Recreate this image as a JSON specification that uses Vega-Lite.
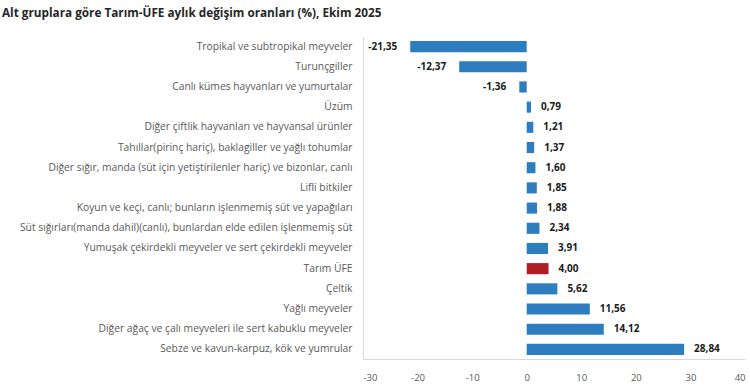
{
  "$schema": "https://vega.github.io/schema/vega-lite/v6.json",
  "autosize": {"type": "none"},
  "width": 382,
  "height": 322,
  "padding": {"left": 363, "top": 37, "right": 5, "bottom": 26},
  "background": "white",
  "title": {
    "text": "Alt gruplara göre Tarım-ÜFE aylık değişim oranları (%), Ekim 2025",
    "anchor": "start",
    "frame": "group",
    "dx": -361,
    "dy": -17,
    "offset": 0,
    "fontSize": 11.75,
    "font": "Open Sans",
    "fontWeight": "bold",
    "color": "#262626"
  },
  "config": {
    "locale": {"number": {"decimal": ",", "thousands": ".", "grouping": [3], "currency": ["", ""], "minus": "-"}},
    "view": {"stroke": null},
    "font": "Open Sans"
  },
  "data": {
    "values": [
      {"grup": "Tropikal ve subtropikal meyveler", "deger": -21.35, "tip": "alt"},
      {"grup": "Turunçgiller", "deger": -12.37, "tip": "alt"},
      {"grup": "Canlı kümes hayvanları ve yumurtalar", "deger": -1.36, "tip": "alt"},
      {"grup": "Üzüm", "deger": 0.79, "tip": "alt"},
      {"grup": "Diğer çiftlik hayvanları ve hayvansal ürünler", "deger": 1.21, "tip": "alt"},
      {"grup": "Tahıllar(pirinç hariç), baklagiller ve yağlı tohumlar", "deger": 1.37, "tip": "alt"},
      {"grup": "Diğer sığır, manda (süt için yetiştirilenler hariç) ve bizonlar, canlı", "deger": 1.60, "tip": "alt"},
      {"grup": "Lifli bitkiler", "deger": 1.85, "tip": "alt"},
      {"grup": "Koyun ve keçi, canlı; bunların işlenmemiş süt ve yapağıları", "deger": 1.88, "tip": "alt"},
      {"grup": "Süt sığırları(manda dahil)(canlı), bunlardan elde edilen işlenmemiş süt", "deger": 2.34, "tip": "alt"},
      {"grup": "Yumuşak çekirdekli meyveler ve sert çekirdekli meyveler", "deger": 3.91, "tip": "alt"},
      {"grup": "Tarım ÜFE", "deger": 4.00, "tip": "genel"},
      {"grup": "Çeltik", "deger": 5.62, "tip": "alt"},
      {"grup": "Yağlı meyveler", "deger": 11.56, "tip": "alt"},
      {"grup": "Diğer ağaç ve çalı meyveleri ile sert kabuklu meyveler", "deger": 14.12, "tip": "alt"},
      {"grup": "Sebze ve kavun-karpuz, kök ve yumrular", "deger": 28.84, "tip": "alt"}
    ]
  },
  "encoding": {
    "y": {
      "field": "grup", "type": "nominal", "sort": null, "title": null,
      "scale": {"paddingInner": 0.45, "paddingOuter": 0.2},
      "axis": {
        "domain": true, "domainColor": "#d9d9d9", "ticks": false,
        "labelPadding": 11, "labelFontSize": 10.3, "labelColor": "#595959",
        "labelLimit": 400, "labelFont": "Open Sans"
      }
    },
    "x": {
      "field": "deger", "type": "quantitative", "title": null,
      "scale": {"domain": [-30, 40], "nice": false, "zero": true},
      "axis": {
        "values": [-30, -20, -10, 0, 10, 20, 30, 40], "format": "d",
        "grid": false, "ticks": false, "domain": true, "domainColor": "#d9d9d9",
        "labelPadding": 13, "labelFontSize": 9.5, "labelColor": "#595959", "labelFont": "Open Sans"
      }
    }
  },
  "layer": [
    {
      "mark": {"type": "bar"},
      "encoding": {
        "color": {
          "field": "tip", "type": "nominal", "legend": null,
          "scale": {"domain": ["alt", "genel"], "range": ["#2e7ebf", "#b01d24"]}
        }
      }
    },
    {
      "transform": [{"filter": "datum.deger < 0"}],
      "mark": {"type": "text", "align": "right", "dx": -13, "fontSize": 10, "fontWeight": "bold", "color": "#1a1a1a", "font": "Open Sans"},
      "encoding": {"text": {"field": "deger", "type": "quantitative", "format": ".2f"}}
    },
    {
      "transform": [{"filter": "datum.deger >= 0"}],
      "mark": {"type": "text", "align": "left", "dx": 10, "fontSize": 10, "fontWeight": "bold", "color": "#1a1a1a", "font": "Open Sans"},
      "encoding": {"text": {"field": "deger", "type": "quantitative", "format": ".2f"}}
    }
  ]
}
